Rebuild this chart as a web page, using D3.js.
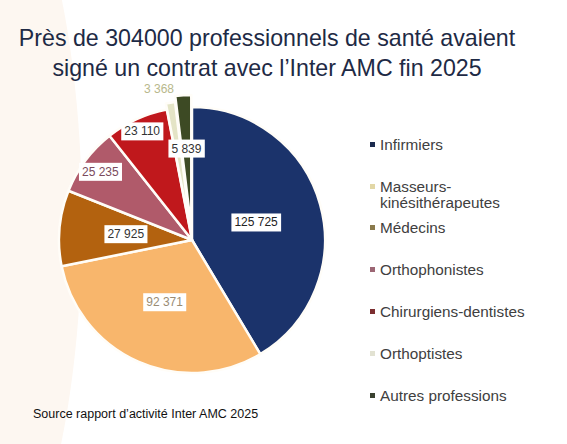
<!DOCTYPE html>
<html>
<head>
<meta charset="utf-8">
<script src="https://cdn.jsdelivr.net/npm/d3@7"></script>
<style>
  body { margin: 0; background: #fff; }
  svg { display: block; font-family: "Liberation Sans", Arial, sans-serif; }
</style>
</head>
<body>
<svg id="chart" width="567" height="444"></svg>
<script>
// data
var categories = ["Infirmiers", "Masseurs-kinésithérapeutes", "Médecins", "Orthophonistes",
                  "Chirurgiens-dentistes", "Orthoptistes", "Autres professions"];
var values = [125725, 92371, 27925, 25235, 23110, 3368, 5839];
var valueLabels = ["125 725", "92 371", "27 925", "25 235", "23 110", "3 368", "5 839"];
// legend lines (Masseurs wraps on two lines)
var legendLines = [["Infirmiers"], ["Masseurs-", "kinésithérapeutes"], ["Médecins"], ["Orthophonistes"],
                   ["Chirurgiens-dentistes"], ["Orthoptistes"], ["Autres professions"]];

var sliceColors = ["#1b336b", "#f8b66c", "#b3620f", "#b05a6a", "#c0181c", "#e4e4c6", "#3d4a24"];
var legendColors = ["#1b2a4e", "#e2d7a6", "#8a7a4c", "#9c6674", "#7c2e30", "#e2e2d2", "#3a4230"];
var labelText = ["#222", "#9a8c74", "#333", "#7a4a5c", "#333", "#b8b88c", "#333"];

var svg = d3.select("#chart");

// faint beige backdrop on the left
svg.append("ellipse")
    .attr("cx", -40).attr("cy", 220)
    .attr("rx", 122).attr("ry", 400)
    .attr("fill", "#fdf7f1");

// title
var title = svg.append("text")
    .attr("text-anchor", "middle")
    .attr("fill", "#1e2a45")
    .style("font-size", "23.2px");
title.append("tspan").attr("x", 267).attr("y", 46).text("Près de 304000 professionnels de santé avaient");
title.append("tspan").attr("x", 267).attr("y", 76).text("signé un contrat avec l’Inter AMC fin 2025");

// pie
var cx = 192, cy = 240, r = 133;
var explode = [0, 0, 0, 0, 0, 6, 12];
var labelPos = [0.5, 0.51, 0.5, 0.86, 0.9, 1.12, 0.6];

var pie = d3.pie().sort(null).value(function(d) { return d; });
var arcs = pie(values);
var arc = d3.arc().innerRadius(0).outerRadius(r);

var g = svg.append("g").attr("transform", "translate(" + cx + "," + cy + ")");

g.selectAll("path")
    .data(arcs)
    .enter().append("path")
    .attr("d", arc)
    .attr("fill", function(d, i) { return sliceColors[i]; })
    .attr("stroke", "#fffdf8")
    .attr("stroke-width", 2.5)
    .attr("stroke-linejoin", "round")
    .attr("transform", function(d, i) {
        var a = (d.startAngle + d.endAngle) / 2;
        return "translate(" + (Math.sin(a) * explode[i]) + "," + (-Math.cos(a) * explode[i]) + ")";
    });

// value labels
var lab = g.selectAll("g.lab")
    .data(arcs)
    .enter().append("g")
    .attr("class", "lab")
    .attr("transform", function(d, i) {
        var a = (d.startAngle + d.endAngle) / 2;
        var rr = r * labelPos[i] + explode[i];
        var x = Math.sin(a) * rr, y = -Math.cos(a) * rr;
        if (i == 5) { x -= 9; y += 2; }
        return "translate(" + x + "," + y + ")";
    });

lab.each(function(d, i) {
    var el = d3.select(this);
    var t = el.append("text")
        .attr("text-anchor", "middle")
        .attr("dy", "0.35em")
        .attr("fill", labelText[i])
        .style("font-size", "12px")
        .text(valueLabels[i]);
    if (i != 5) {
        var bb = t.node().getBBox();
        el.insert("rect", "text")
            .attr("x", bb.x - 3).attr("y", bb.y - 2)
            .attr("width", bb.width + 6).attr("height", bb.height + 4)
            .attr("fill", "#fff");
    }
});

// legend
var legY = [145, 187, 228, 270, 312, 354, 396];
var leg = svg.selectAll("g.leg")
    .data(categories)
    .enter().append("g")
    .attr("class", "leg")
    .attr("transform", function(d, i) { return "translate(370," + legY[i] + ")"; });

leg.append("rect")
    .attr("x", 0).attr("y", -3)
    .attr("width", 5).attr("height", 5)
    .attr("fill", function(d, i) { return legendColors[i]; });

leg.append("text")
    .attr("x", 10)
    .attr("fill", "#404040")
    .style("font-size", "15.3px")
    .each(function(d, i) {
        var t = d3.select(this);
        legendLines[i].forEach(function(line, k) {
            t.append("tspan").attr("x", 10).attr("dy", k == 0 ? "0.35em" : "1.05em").text(line);
        });
    });

// source
svg.append("text")
    .attr("x", 33).attr("y", 418)
    .attr("fill", "#111")
    .style("font-size", "12.5px")
    .text("Source rapport d’activité Inter AMC 2025");
</script>
</body>
</html>
